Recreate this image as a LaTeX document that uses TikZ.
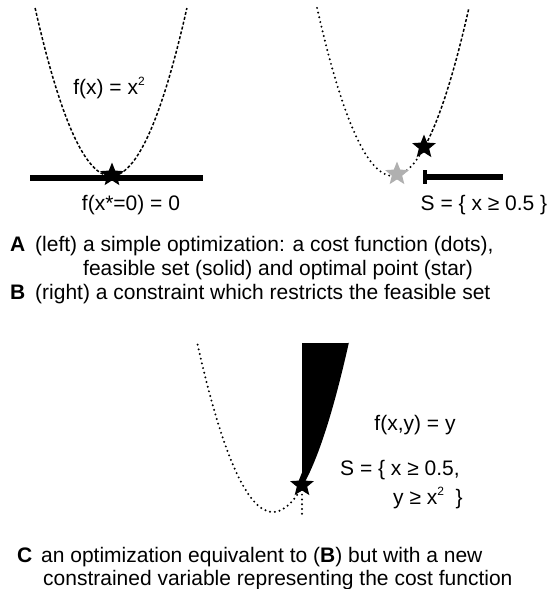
\documentclass[tikz,border=0pt]{standalone}
\usepackage{fontspec}
\setmainfont{Liberation Sans}
\usepackage{tikz}
\usetikzlibrary{shapes.geometric}
\definecolor{cinza}{RGB}{176,176,176}
\newcommand{\expo}[1]{\raisebox{0.42em}{\fontsize{12}{12}\selectfont #1}}

\begin{document}
\begin{tikzpicture}[x=1pt,y=-1pt,
        texto/.style={inner sep=0pt,font=\fontsize{21}{24}\selectfont},
        linha/.style={texto,anchor=base west},
        estrela/.style={star,star points=5,star point ratio=2.3,minimum size=25pt,inner sep=0pt,fill=black},
        tracejado/.style={line width=1.5pt,dash pattern=on 3pt off 2pt},
        pontilhado/.style={line width=2.2pt,line cap=round,dash pattern=on 0pt off 4.8pt},
        barra/.style={line width=6pt}]
      \useasboundingbox (0,0) rectangle (553,589);
      % (A) funcao de custo e conjunto viavel
      \draw[tracejado] plot[domain=-1.265:1.265,samples=60] ({111+60*\x},{176-105*\x*\x});
      \draw[barra] (30,178) -- (203,178);
      \node[estrela] (ea) at (112,175) {};
      \node[texto] (fa) at (109,88) {f(x) = x\expo{2}};
      \node[texto] (ra) at (131,205) {f(x*=0) = 0};
      % (B) restricao
      \draw[pontilhado] plot[domain=-1.265:0.5,samples=50] ({393+60*\x},{176-105*\x*\x});
      \draw[tracejado] plot[domain=0.5:1.265,samples=30] ({393+60*\x},{176-105*\x*\x});
      \draw[barra] (424,177) -- (503,177);
      \draw[line width=4pt] (425,170) -- (425,184);
      \node[estrela,fill=cinza] (eg) at (397,174) {};
      \node[estrela] (eb) at (424,147) {};
      \node[texto] (sb) at (484,205) {S = \{ x ≥ 0.5 \}};
      % legenda A e B
      \node[linha] (la) at (10,251) {\textbf{A}};
      \node[linha] (la1) at (35,251) {(left) a simple optimization: a cost function (dots),};
      \node[linha] (la2) at (83,275) {feasible set (solid) and optimal point (star)};
      \node[linha] (lb) at (10,299) {\textbf{B}};
      \node[linha] (lb1) at (35,299) {(right) a constraint which restricts the feasible set};
      % (C) nova variavel
      \draw[pontilhado] plot[domain=-1.3:0.5,samples=50] ({273+58*\x},{512-99*\x*\x});
      \fill (302,487) -- (302,343) -- (349,343) -- plot[domain=1.31:0.5,samples=30] ({273+58*\x},{512-99*\x*\x}) -- cycle;
      \node[estrela] (ec) at (302,485) {};
      \draw[pontilhado] (ec.center) -- (302,517);
      \node[texto] (fc) at (415,425) {f(x,y) = y};
      \node[texto,anchor=west] (sc1) at (340,470) {S = \{ x ≥ 0.5,};
      \node[texto,anchor=west] (sc2) at (393,498) {y ≥ x\expo{2}\ \ \}};
      % legenda C
      \node[linha] (lc) at (17,562) {\textbf{C}};
      \node[linha] (lc1) at (41,562) {an optimization equivalent to (\textbf{B}) but with a new};
      \node[linha] (lc2) at (43,585) {constrained variable representing the cost function};
    \end{tikzpicture}
\end{document}
